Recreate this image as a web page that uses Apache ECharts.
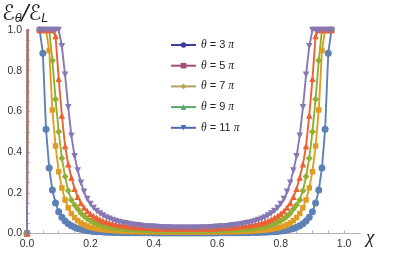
<!DOCTYPE html>
<html><head><meta charset="utf-8">
<script src="https://cdn.jsdelivr.net/npm/echarts@6/dist/echarts.min.js"></script>
<style>html,body{margin:0;padding:0;background:#fff}#c{width:415px;height:261px}</style>
</head><body><div id="c"></div>
<script>
// chi values
const xs=[0,0.01,0.02,0.03,0.04,0.05,0.06,0.07,0.08,0.09,0.1,0.11,0.12,0.13,0.14,0.15,0.16,0.17,0.18,0.19,0.2,0.21,0.22,0.23,0.24,0.25,0.26,0.27,0.28,0.29,0.3,0.31,0.32,0.33,0.34,0.35,0.36,0.37,0.38,0.39,0.4,0.41,0.42,0.43,0.44,0.45,0.46,0.47,0.48,0.49,0.5,0.51,0.52,0.53,0.54,0.55,0.56,0.57,0.58,0.59,0.6,0.61,0.62,0.63,0.64,0.65,0.66,0.67,0.68,0.69,0.7,0.71,0.72,0.73,0.74,0.75,0.76,0.77,0.78,0.79,0.8,0.81,0.82,0.83,0.84,0.85,0.86,0.87,0.88,0.89,0.9,0.91,0.92,0.93,0.94,0.95,0.96,0.97,0.98,0.99,1.0];
// ratio values (values above 1 lie beyond the plot range and are clipped)
const theta3=[0,5,5,5,1,0.886,0.512,0.322,0.214,0.150,0.107,0.080,0.062,0.048,0.038,0.031,0.025,0.021,0.017,0.014,0.012,0.010,0.009,0.008,0.007,0.006,0.006,0.005,0.005,0.005,0.004,
0.004,0.004,0.004,0.004,0.004,0.004,0.004,0.004,0.004,
0.003,0.003,0.003,0.003,0.003,0.003,0.003,0.003,0.003,0.003,0.003,
0.003,0.003,0.003,0.003,0.003,0.003,0.003,0.003,0.003,0.003,
0.004,0.004,0.004,0.004,0.004,0.004,0.004,0.004,0.004,
0.004,0.005,0.005,0.005,0.006,0.006,0.007,0.008,0.009,0.010,0.012,0.014,0.017,0.021,0.025,0.031,0.038,0.048,0.062,0.080,0.107,0.150,0.214,0.322,0.512,0.886,1,5,5,5,5];
const theta5=[0,5,5,5,1,1,1,0.90,0.607,0.43,0.304,0.224,0.165,0.126,0.098,0.078,0.063,0.052,0.043,0.036,0.031,0.027,0.024,0.021,0.019,0.017,0.016,0.015,0.014,0.013,0.012,
0.011,0.011,0.010,0.010,0.010,
0.009,0.009,0.009,0.009,0.009,0.009,0.009,
0.008,0.008,0.008,0.008,0.008,0.008,0.008,0.008,
0.008,0.008,0.008,0.008,0.008,0.008,0.008,
0.009,0.009,0.009,0.009,0.009,0.009,0.009,
0.010,0.010,0.010,0.011,0.011,
0.012,0.013,0.014,0.015,0.016,0.017,0.019,0.021,0.024,0.027,0.031,0.036,0.043,0.052,0.063,0.078,0.098,0.126,0.165,0.224,0.304,0.43,0.607,0.90,1,1,1,5,5,5,5];
const theta7=[0,5,5,5,1,1,1,1,0.85,0.66,0.50,0.37,0.28,0.21,0.165,0.14,0.12,0.10,0.085,0.073,0.063,0.055,0.048,0.043,0.038,0.034,0.031,0.028,0.026,0.024,0.022,
0.021,0.020,0.019,0.018,0.017,0.016,0.016,0.015,0.015,
0.014,0.014,0.014,0.014,0.014,0.014,0.014,0.014,0.014,0.014,0.014,
0.014,0.014,0.014,0.014,0.014,0.014,0.014,0.014,0.014,0.014,
0.015,0.015,0.016,0.016,0.017,0.018,0.019,0.020,0.021,
0.022,0.024,0.026,0.028,0.031,0.034,0.038,0.043,0.048,0.055,0.063,0.073,0.085,0.10,0.12,0.14,0.165,0.21,0.28,0.37,0.50,0.66,0.85,1,1,1,1,5,5,5,5];
const theta9=[0,5,5,5,1,1,1,1,1,0.97,0.76,0.58,0.43,0.34,0.275,0.22,0.18,0.15,0.128,0.11,0.097,0.086,0.077,0.069,0.062,0.057,0.052,0.048,0.045,0.042,0.040,
0.038,0.036,0.034,0.032,0.031,0.030,0.029,0.028,0.027,0.026,0.025,0.025,0.024,0.024,0.024,
0.023,0.023,0.023,0.023,0.023,
0.023,0.023,0.023,0.023,
0.024,0.024,0.024,0.025,0.025,0.026,0.027,0.028,0.029,0.030,0.031,0.032,0.034,0.036,0.038,
0.040,0.042,0.045,0.048,0.052,0.057,0.062,0.069,0.077,0.086,0.097,0.11,0.128,0.15,0.18,0.22,0.275,0.34,0.43,0.58,0.76,0.97,1,1,1,1,1,5,5,5,5];
const theta11=[0,5,5,5,1,1,1,1,1,1,1,0.92,0.78,0.62,0.48,0.38,0.31,0.25,0.205,0.17,0.145,0.125,0.11,0.098,0.088,0.079,0.072,0.066,0.061,0.057,0.053,
0.050,0.047,0.044,0.042,0.040,0.038,0.036,0.035,0.034,0.033,0.032,0.031,0.030,0.030,0.029,
0.028,0.028,0.028,0.028,0.028,
0.028,0.028,0.028,0.028,
0.029,0.030,0.030,0.031,0.032,0.033,0.034,0.035,0.036,0.038,0.040,0.042,0.044,0.047,0.050,
0.053,0.057,0.061,0.066,0.072,0.079,0.088,0.098,0.11,0.125,0.145,0.17,0.205,0.25,0.31,0.38,0.48,0.62,0.78,0.92,1,1,1,1,1,1,1,5,5,5,5];
const seriesValues=[theta3,theta5,theta7,theta9,theta11];
const thetaMultiples=['3','5','7','9','11'];
const xTickLabels=['0.0','0.2','0.4','0.6','0.8','1.0'];
const yTickLabels=['0.0','0.2','0.4','0.6','0.8','1.0'];

const lineColors=['#5E81B5','#E19C24','#8FB032','#EB6235','#8778B3'];
const legendColors=['#3d3d9c','#a44c7a','#b3a05a','#55aa6b','#4a6cb3'];
const symbols=['circle','rect','diamond','triangle','triangle'];
const rotations=[0,0,0,0,180];
const sizes=[7,5.5,7,6.5,6.5];

const legendNames=thetaMultiples.map(m=>'θ = '+m+' π');
const series=[];
seriesValues.forEach((vals,k)=>{
  series.push({
    name:'s'+k,type:'line',clip:true,
    data:xs.map((x,i)=>[x,vals[i]]),
    symbol:symbols[k],symbolRotate:rotations[k],symbolSize:sizes[k],showSymbol:true,
    lineStyle:{color:lineColors[k],width:1.9},
    itemStyle:{color:lineColors[k]},
    animation:false
  });
});
legendNames.forEach((n,k)=>{
  series.push({name:n,type:'line',data:[],symbol:symbols[k],symbolRotate:rotations[k],
    lineStyle:{color:legendColors[k],width:1.6},itemStyle:{color:legendColors[k]}});
});
function fmt(labels){
  return function(v){
    const r=Math.round(v*5);
    if(Math.abs(v*5-r)<1e-6) return labels[r]||'';
    return '';
  };
}
const axisCommon={
  axisLine:{lineStyle:{color:'#b3b3b3',width:1}},
  axisTick:{show:true,inside:true,length:3,lineStyle:{color:'#b3b3b3'}},
  splitLine:{show:false},
};
const chart=echarts.init(document.getElementById('c'),null,{renderer:'canvas'});
chart.setOption({
  animation:false,
  backgroundColor:'#fff',
  grid:{left:27,right:55,top:30,bottom:27.5},
  xAxis:Object.assign({type:'value',min:0,max:1.05,interval:0.05,
    axisLabel:{formatter:fmt(xTickLabels),margin:5,fontSize:10.5,color:'#333',fontFamily:'Liberation Sans',showMaxLabel:false}},axisCommon),
  yAxis:Object.assign({type:'value',min:0,max:1,interval:0.05,
    axisLabel:{formatter:fmt(yTickLabels),margin:5,fontSize:10.5,color:'#333',fontFamily:'Liberation Sans'}},axisCommon),
  legend:{
    data:legendNames,orient:'vertical',left:170,top:39,padding:0,
    itemWidth:25,itemHeight:7,itemGap:8.7,
    formatter:function(name){const m=name.replace('θ = ','').replace(' π','');return '{i|θ} = '+m+' {i|π}';},
    textStyle:{fontSize:11,color:'#222',fontFamily:'Liberation Sans',lineHeight:12,
      rich:{i:{fontStyle:'italic',fontSize:11.5,fontFamily:'Liberation Serif'}}}
  },
  graphic:[
    {type:'text',left:2,top:4,style:{
      text:'{e|ℰ}{s|θ}{e|/ℰ}{s|L}',
      rich:{e:{fontSize:21,fontFamily:'DejaVu Sans',fill:'#222',fontStyle:'italic'},
            s:{fontSize:12.5,fontFamily:'Liberation Sans',fontStyle:'italic',fill:'#222',padding:[9,0,0,0]}}}},
    {type:'text',left:366,top:228,style:{text:'χ',font:'italic 19px "Liberation Serif"',fill:'#222'}}
  ],
  series:series
});
</script></body></html>
